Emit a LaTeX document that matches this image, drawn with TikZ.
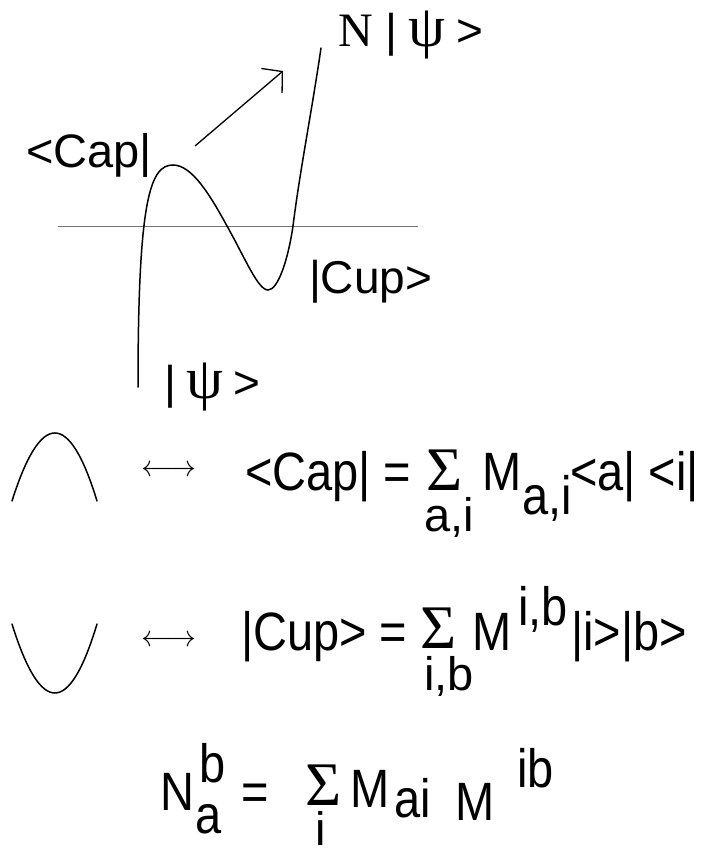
\documentclass[tikz,border=0pt]{standalone}
\usepackage{graphicx}
\usepackage{fontspec}
\setmainfont{Liberation Sans}
\newfontfamily\nrw[FakeStretch=0.87]{Liberation Sans}
\newfontfamily\srf{Liberation Serif}
\usetikzlibrary{arrows.meta}
\newcommand\fs[1]{\fontsize{#1}{#1}\selectfont}
\newcommand\psisym[1]{\makebox[#1][c]{\srf\fs{59}ψ}}
\newcommand\lrarrow{\scalebox{3.0}{$\longleftrightarrow$}}
\tikzset{
  lab/.style={anchor=base west,inner sep=0pt,outer sep=0pt},
  toplab/.style={lab,font=\fs{46}},
  eq/.style={lab,font=\nrw\fs{54}},
  idx/.style={lab,font=\fs{47}},
  sig/.style={lab,font=\srf\fs{62}},
  strand/.style={line width=1.5pt,line cap=round},
  axis/.style={line width=1pt,draw=black!55},
  lr/.style={inner sep=0pt}
}
\begin{document}
\begin{tikzpicture}[x=1pt,y=-1pt]
\useasboundingbox (0,0) rectangle (712,851);

% ---- top picture ----
\draw[axis] (58,226) -- (418,226);
\draw[strand] (138,387) .. controls (138,200) and (150,165) .. (173,165)
  .. controls (192,165) and (210,195) .. (227,226)
  .. controls (245,258) and (258,290) .. (268,290)
  .. controls (278,290) and (288,260) .. (293,226)
  .. controls (300,170) and (312,110) .. (321,48);
\coordinate (a0) at (195,146);
\coordinate (a1) at (283,71);
\draw[line width=1.3pt,-{Straight Barb[length=14pt,width=32pt,line width=1.3pt]}] (a0) -- (a1);

\node[toplab] (npsi) at (338,47) {{\srf\fs{48}N} | \psisym{34pt} >};
\node[toplab,font=\fs{47}] (caplab) at (26,167) {<Cap|};
\node[toplab] (cuplab) at (309,293) {|Cup>};
\node[toplab] (psilab) at (164,398) {| \psisym{32pt} >};

% ---- cap formula ----
\draw[strand] (12,501) .. controls (40.7,410.3) and (69.3,410.3) .. (97,501);
\node[lr] (lr1) at (168.5,471) {\lrarrow};
\node[eq] (c1) at (245,490) {<Cap| =};
\node[sig] (c2) at (426,490) {Σ};
\node[idx] (c3) at (424,531) {a,i};
\node[eq] (c4) at (482,490) {M};
\node[eq] (c5) at (522,514) {a,i};
\node[eq] (c6) at (570,490) {<a| <i|};

% ---- cup formula ----
\draw[strand] (12,624) .. controls (40.7,716) and (69.3,716) .. (97,624);
\node[lr] (lr2) at (168.5,641) {\lrarrow};
\node[eq] (u1) at (241,650) {|Cup> =};
\node[sig] (u2) at (420,648) {Σ};
\node[idx] (u3) at (424,690) {i,b};
\node[eq] (u4) at (472,650) {M};
\node[eq] (u5) at (518,625) {i,b};
\node[eq] (u6) at (571,650) {|i>|b>};

% ---- N formula ----
\node[eq] (n1) at (160,810) {N};
\node[eq] (n2) at (199,782) {b};
\node[eq] (n3) at (195,833) {a};
\node[eq] (n4) at (241,810) {=};
\node[sig] (n5) at (305,805) {Σ};
\node[idx] (n6) at (315,845) {i};
\node[eq] (n7) at (350,807) {M};
\node[eq] (n8) at (394,817) {ai};
\node[eq] (n9) at (455,820) {M};
\node[eq] (n10) at (517,787) {ib};
\end{tikzpicture}
\end{document}
